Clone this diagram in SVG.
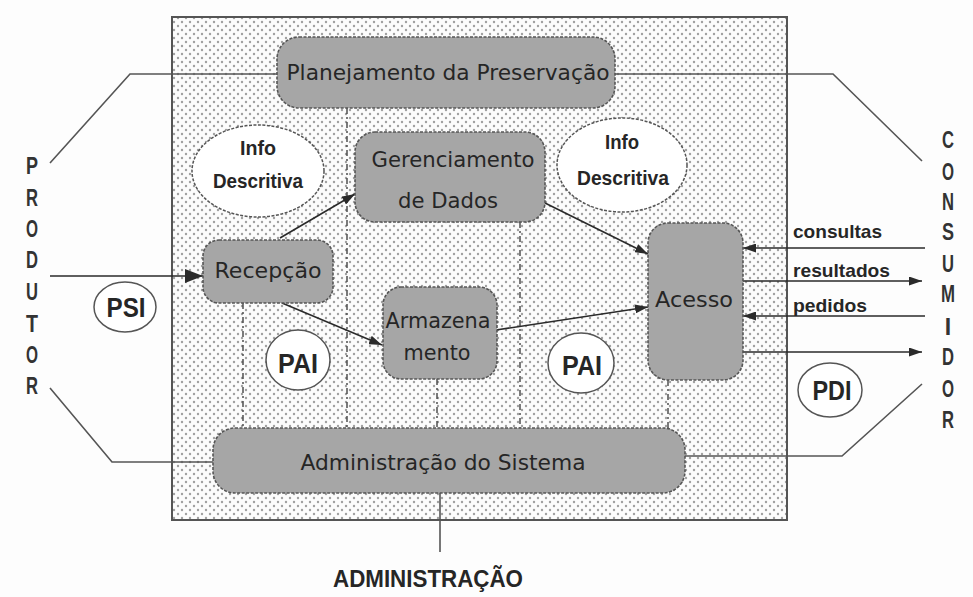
<svg xmlns="http://www.w3.org/2000/svg" width="973" height="597" viewBox="0 0 973 597">
<defs>
  <pattern id="dots" width="8" height="8" patternUnits="userSpaceOnUse">
    <rect width="8" height="8" fill="#fcfcfc"/>
    <circle cx="2" cy="2" r="1.2" fill="#a0a0a0"/>
    <circle cx="6" cy="6" r="1.2" fill="#a0a0a0"/>
  </pattern>
  <marker id="arr" markerUnits="userSpaceOnUse" markerWidth="13" markerHeight="9" refX="13" refY="4.5" orient="auto">
    <path d="M0,0 L13,4.5 L0,9 z" fill="#2a2a2a"/>
  </marker>
  <marker id="arrBig" markerUnits="userSpaceOnUse" markerWidth="18" markerHeight="14" refX="18" refY="7" orient="auto">
    <path d="M0,0 L18,7 L0,14 z" fill="#2a2a2a"/>
  </marker>
</defs>
<style>
  .box { fill: #a6a6a6; stroke: #555; stroke-width: 1.6; stroke-dasharray: 3 1.5; }
  .ell { fill: #ffffff; stroke: #555; stroke-width: 1.5; }
  .ell-d { fill: #ffffff; stroke: #555; stroke-width: 1.5; stroke-dasharray: 3 1.5; }
  .lbl { font-family: "DejaVu Sans", "Liberation Sans", sans-serif; font-size: 21px; fill: #262626; text-anchor: middle; }
  .bold { font-family: "Liberation Sans Narrow", "Liberation Sans", sans-serif; font-weight: bold; fill: #262626; text-anchor: middle; }
  .side { font-family: "Liberation Sans Narrow", "Liberation Sans", sans-serif; font-weight: bold; font-size: 23px; fill: #333; text-anchor: middle; }
  .small { font-family: "Liberation Sans Narrow", "Liberation Sans", sans-serif; font-weight: bold; font-size: 19px; fill: #262626; }
  .conn { fill: none; stroke: #2a2a2a; stroke-width: 1.6; }
  .brk { fill: none; stroke: #555; stroke-width: 1.6; }
  .dash { fill: none; stroke: #444; stroke-width: 1.4; stroke-dasharray: 6 3 2 3; }
</style>
<rect width="973" height="597" fill="#fdfdfd"/>
<g id="archive">
  <rect x="172" y="17" width="615" height="503" fill="url(#dots)" stroke="#555" stroke-width="2"/>
</g>
<g id="partitions">
  <line class="dash" x1="347" y1="108" x2="347" y2="428"/>
  <line class="dash" x1="243" y1="303" x2="243" y2="428"/>
  <line class="dash" x1="437" y1="379" x2="437" y2="428"/>
  <line class="dash" x1="520" y1="222" x2="520" y2="428"/>
  <line class="dash" x1="668" y1="380" x2="668" y2="428" stroke="#888"/>
</g>
<g id="connectors">
  <polyline class="brk" points="50,163 130,74 277,74"/>
  <polyline class="brk" points="615,74 833,74 922,161"/>
  <polyline class="brk" points="50,388 112,462 213,462"/>
  <polyline class="brk" points="685,456 842,456 922,384"/>
  <line class="brk" x1="440" y1="493" x2="440" y2="552"/>
  <line class="conn" x1="50" y1="276" x2="203" y2="276" marker-end="url(#arrBig)"/>
  <line class="conn" x1="280" y1="238" x2="355" y2="194" marker-end="url(#arr)"/>
  <line class="conn" x1="282" y1="303" x2="382" y2="345" marker-end="url(#arr)"/>
  <line class="conn" x1="545" y1="203" x2="648" y2="254" marker-end="url(#arr)"/>
  <line class="conn" x1="496" y1="330" x2="648" y2="307" marker-end="url(#arr)"/>
  <line class="conn" x1="925" y1="248" x2="743" y2="248" marker-end="url(#arr)"/>
  <line class="conn" x1="743" y1="281" x2="922" y2="281" marker-end="url(#arr)"/>
  <line class="conn" x1="925" y1="316" x2="743" y2="316" marker-end="url(#arr)"/>
  <line class="conn" x1="743" y1="352" x2="922" y2="352" marker-end="url(#arr)"/>
</g>
<g id="planejamento">
  <rect class="box" x="277" y="37" width="338" height="71" rx="22"/>
  <text class="lbl" x="448" y="80" font-size="23" textLength="323" lengthAdjust="spacingAndGlyphs">Planejamento da Preservação</text>
</g>
<g id="gerenciamento">
  <rect class="box" x="355" y="132" width="190" height="90" rx="20"/>
  <text class="lbl" x="453" y="167" textLength="163" lengthAdjust="spacingAndGlyphs">Gerenciamento</text>
  <text class="lbl" x="448" y="208" textLength="100" lengthAdjust="spacingAndGlyphs">de Dados</text>
</g>
<g id="recepcao">
  <rect class="box" x="203" y="240" width="130" height="63" rx="16"/>
  <text class="lbl" x="268" y="278" textLength="107" lengthAdjust="spacingAndGlyphs">Recepção</text>
</g>
<g id="armazenamento">
  <rect class="box" x="383" y="287" width="114" height="92" rx="18"/>
  <text class="lbl" x="438" y="328" textLength="105" lengthAdjust="spacingAndGlyphs">Armazena</text>
  <text class="lbl" x="437" y="360" textLength="67" lengthAdjust="spacingAndGlyphs">mento</text>
</g>
<g id="acesso">
  <rect class="box" x="648" y="223" width="95" height="157" rx="20"/>
  <text class="lbl" x="694" y="307" textLength="78" lengthAdjust="spacingAndGlyphs">Acesso</text>
</g>
<g id="administracao-sistema">
  <rect class="box" x="213" y="428" width="472" height="65" rx="22"/>
  <text class="lbl" x="443" y="470" textLength="285" lengthAdjust="spacingAndGlyphs">Administração do Sistema</text>
</g>
<g id="info-descritiva-1">
  <ellipse class="ell-d" cx="258" cy="171" rx="66" ry="46"/>
  <text class="bold" x="258" y="155" font-size="21" textLength="36" lengthAdjust="spacingAndGlyphs">Info</text>
  <text class="bold" x="258" y="188" font-size="21" textLength="90" lengthAdjust="spacingAndGlyphs">Descritiva</text>
</g>
<g id="info-descritiva-2">
  <ellipse class="ell-d" cx="622" cy="165" rx="65" ry="47"/>
  <text class="bold" x="622" y="149" font-size="21" textLength="34" lengthAdjust="spacingAndGlyphs">Info</text>
  <text class="bold" x="623" y="185" font-size="21" textLength="92" lengthAdjust="spacingAndGlyphs">Descritiva</text>
</g>
<g id="psi">
  <ellipse class="ell" cx="125" cy="307" rx="31" ry="25"/>
  <text class="bold" x="126" y="317" font-size="27" textLength="39" lengthAdjust="spacingAndGlyphs">PSI</text>
</g>
<g id="pai-1">
  <ellipse class="ell" cx="298" cy="360" rx="32" ry="30"/>
  <text class="bold" x="298" y="373" font-size="27" textLength="40" lengthAdjust="spacingAndGlyphs">PAI</text>
</g>
<g id="pai-2">
  <ellipse class="ell" cx="581" cy="363" rx="33" ry="30"/>
  <text class="bold" x="582" y="375" font-size="27" textLength="40" lengthAdjust="spacingAndGlyphs">PAI</text>
</g>
<g id="pdi">
  <ellipse class="ell" cx="830" cy="390" rx="32" ry="27"/>
  <text class="bold" x="832" y="400" font-size="27" textLength="39" lengthAdjust="spacingAndGlyphs">PDI</text>
</g>
<g id="flow-labels">
  <text class="small" x="793" y="238" textLength="89" lengthAdjust="spacingAndGlyphs">consultas</text>
  <text class="small" x="793" y="277" textLength="97" lengthAdjust="spacingAndGlyphs">resultados</text>
  <text class="small" x="793" y="312" textLength="74" lengthAdjust="spacingAndGlyphs">pedidos</text>
</g>
<g id="produtor">
  <text class="side" x="32" y="174" textLength="12" lengthAdjust="spacingAndGlyphs">P</text>
  <text class="side" x="32" y="206" textLength="12" lengthAdjust="spacingAndGlyphs">R</text>
  <text class="side" x="32" y="237" textLength="12" lengthAdjust="spacingAndGlyphs">O</text>
  <text class="side" x="32" y="268" textLength="12" lengthAdjust="spacingAndGlyphs">D</text>
  <text class="side" x="32" y="300" textLength="12" lengthAdjust="spacingAndGlyphs">U</text>
  <text class="side" x="32" y="332" textLength="12" lengthAdjust="spacingAndGlyphs">T</text>
  <text class="side" x="32" y="363" textLength="12" lengthAdjust="spacingAndGlyphs">O</text>
  <text class="side" x="32" y="394" textLength="12" lengthAdjust="spacingAndGlyphs">R</text>
</g>
<g id="consumidor">
  <text class="side" x="948" y="148" textLength="12" lengthAdjust="spacingAndGlyphs">C</text>
  <text class="side" x="948" y="180" textLength="12" lengthAdjust="spacingAndGlyphs">O</text>
  <text class="side" x="948" y="210" textLength="12" lengthAdjust="spacingAndGlyphs">N</text>
  <text class="side" x="948" y="240" textLength="12" lengthAdjust="spacingAndGlyphs">S</text>
  <text class="side" x="948" y="272" textLength="12" lengthAdjust="spacingAndGlyphs">U</text>
  <text class="side" x="948" y="302" textLength="14" lengthAdjust="spacingAndGlyphs">M</text>
  <text class="side" x="948" y="335">I</text>
  <text class="side" x="948" y="365" textLength="12" lengthAdjust="spacingAndGlyphs">D</text>
  <text class="side" x="948" y="397" textLength="12" lengthAdjust="spacingAndGlyphs">O</text>
  <text class="side" x="948" y="428" textLength="12" lengthAdjust="spacingAndGlyphs">R</text>
</g>
<g id="administracao">
  <text class="bold" x="428" y="587" font-size="23" textLength="190" lengthAdjust="spacingAndGlyphs">ADMINISTRAÇÃO</text>
</g>
</svg>
